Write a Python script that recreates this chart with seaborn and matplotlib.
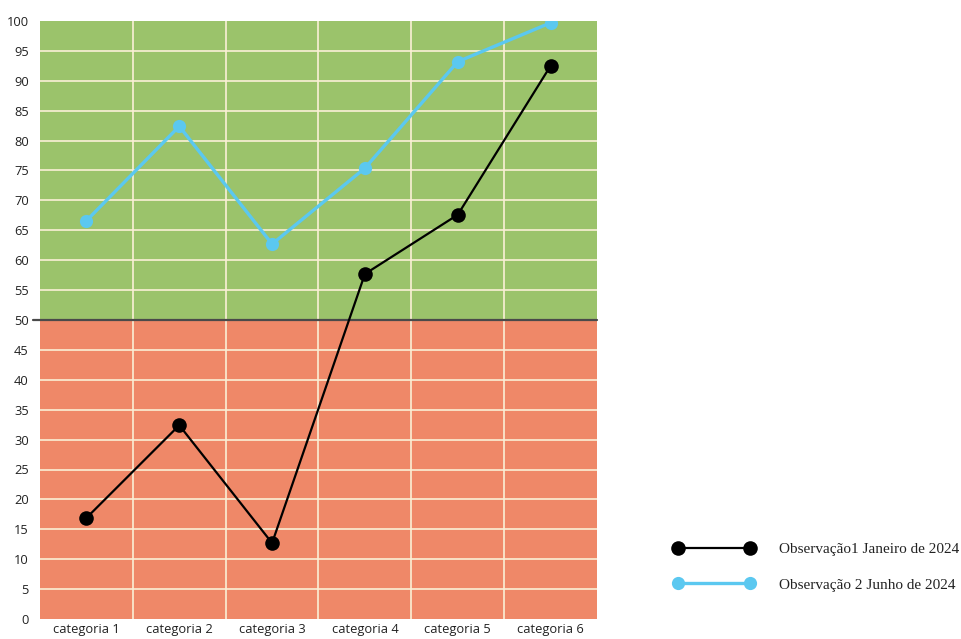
import matplotlib
matplotlib.use("Agg")
import matplotlib.pyplot as plt
import seaborn as sns
import pandas as pd
import numpy as np

categories = ["categoria 1", "categoria 2", "categoria 3", "categoria 4", "categoria 5", "categoria 6"]
obs1 = [16.9, 32.4, 12.7, 57.7, 67.6, 92.5]
obs2 = [66.6, 82.4, 62.7, 75.4, 93.2, 99.7]
series_names = ["Observação1 Janeiro de 2024", "Observação 2 Junho de 2024"]
yticks = list(range(0, 101, 5))

sns.set_theme(style="white")
plt.rcParams['font.family'] = ['Open Sans', 'DejaVu Sans']

fig = plt.figure(figsize=(9.62, 6.39), dpi=100)
ax = fig.add_axes([40/962, 20/639, 557/962, 598/639])

green = "#9BC36B"
red = "#EF8868"
grid_c = "#FBF0D6"

ax.axhspan(50, 100, color=green, zorder=0, lw=0)
ax.axhspan(0, 50, color=red, zorder=0, lw=0)

for y in yticks[1:-1]:
    if y != 50:
        ax.axhline(y, color=grid_c, lw=1.2, zorder=1)
for i in range(1, len(categories)):
    ax.axvline(i - 0.5, color=grid_c, lw=1.2, zorder=1)

ax.plot([-0.012, 1], [50, 50], transform=ax.get_yaxis_transform(), color="#4a4a4a",
        lw=1.6, clip_on=False, zorder=2)

df = pd.DataFrame({
    "cat": categories * 2,
    "val": obs1 + obs2,
    "serie": [series_names[0]] * 6 + [series_names[1]] * 6,
})
df["x"] = list(range(6)) * 2

d1 = df[df.serie == series_names[0]]
d2 = df[df.serie == series_names[1]]
sns.lineplot(data=d2, x="x", y="val", ax=ax, color="#5BC8F0", lw=2.4, marker="o",
             markersize=9.5, markeredgewidth=0, legend=False, zorder=3)
sns.lineplot(data=d1, x="x", y="val", ax=ax, color="black", lw=1.6, marker="o",
             markersize=10.5, markeredgewidth=0, legend=False, zorder=4)
lines = ax.get_lines()
line_blue = lines[-2]
line_black = lines[-1]

ax.set_xlim(-0.5, 5.5)
ax.set_ylim(0, 100)
ax.set_xticks(range(6))
ax.set_xticklabels(categories, fontsize=9.3, color="#222222")
ax.set_yticks(yticks)
ax.set_yticklabels([str(t) for t in yticks], fontsize=9.3, color="#222222")
ax.tick_params(axis="both", length=0)
ax.tick_params(axis="y", pad=8)
ax.tick_params(axis="x", pad=3)
ax.set_xlabel("")
ax.set_ylabel("")
for s in ax.spines.values():
    s.set_visible(False)

leg = fig.legend([line_black, line_blue], series_names,
                 loc="center left", bbox_to_anchor=(660/962, 1 - 567/639),
                 frameon=False, numpoints=2, handlelength=5.3, handletextpad=1.6,
                 labelspacing=1.45, prop={"family": "Liberation Serif", "size": 11})
for t in leg.get_texts():
    t.set_color("#222222")

fig.savefig("out.png", dpi=100)
